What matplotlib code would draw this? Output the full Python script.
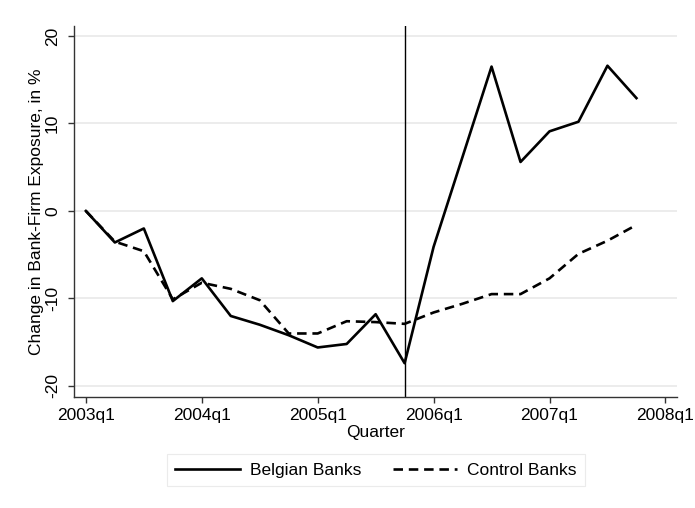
import matplotlib
matplotlib.use("Agg")
import matplotlib.pyplot as plt

plt.rcParams['font.family'] = ['Liberation Sans', 'DejaVu Sans']

quarters = list(range(20))  # 2003q1 .. 2007q4
belgian = [0.0, -3.6, -2.0, -10.3, -7.7, -12.0, -13.0, -14.2, -15.6, -15.2,
           -11.8, -17.4, -4.1, 6.2, 16.5, 5.6, 9.1, 10.2, 16.6, 12.9]
control = [0.0, -3.5, -4.6, -10.1, -8.2, -8.9, -10.2, -14.0, -14.0, -12.6,
           -12.7, -12.9, -11.6, -10.6, -9.5, -9.5, -7.7, -4.9, -3.4, -1.6]
xtick_pos = [0, 4, 8, 12, 16, 20]
xtick_labels = ['2003q1', '2004q1', '2005q1', '2006q1', '2007q1', '2008q1']
yticks = [-20, -10, 0, 10, 20]
event_q = 11

FS = 12.5
fig = plt.figure(figsize=(6.95, 5.08), dpi=100)
ax = fig.add_axes([74/695, 1-397/508, (677-74)/695, (397-26)/508])

ax.set_xlim(-0.41, 20.4)
ax.set_ylim(-21.26, 21.14)
for yv in yticks:
    ax.axhline(yv, color='#eaeaea', lw=1.3, zorder=0)

ax.plot(quarters, belgian, color='black', lw=1.9, label='Belgian Banks', zorder=3)
ax.plot(quarters, control, color='black', lw=1.9, ls=(0, (3.6, 2.2)), label='Control Banks', zorder=3)
ax.axvline(event_q, color='black', lw=1.0, zorder=2)

for s in ['top', 'right']:
    ax.spines[s].set_visible(False)
for s in ['left', 'bottom']:
    ax.spines[s].set_color('#333333')
    ax.spines[s].set_linewidth(1.0)

ax.set_xticks(xtick_pos)
ax.set_xticklabels(xtick_labels, fontsize=FS)
ax.set_yticks(yticks)
ax.set_yticklabels([str(v) for v in yticks], fontsize=FS, rotation=90, va='center')
ax.tick_params(axis='x', direction='out', length=4.5, width=1.0, color='#333333', pad=3.5)
ax.tick_params(axis='y', direction='out', length=4, width=1.0, color='#333333', pad=6)
ax.set_xlabel('Quarter', fontsize=FS, labelpad=1)
ax.set_ylabel('Change in Bank-Firm Exposure, in %', fontsize=FS, labelpad=1)

leg = fig.legend(loc='center', bbox_to_anchor=(376/695, 1-470/508), ncol=2,
                 fontsize=FS, frameon=True, fancybox=False, edgecolor='#e6e6e6',
                 handlelength=3.7, handletextpad=0.6, columnspacing=1.8, borderpad=0.5)
leg.get_frame().set_linewidth(0.8)

fig.savefig('out.png', dpi=100, facecolor='white')
